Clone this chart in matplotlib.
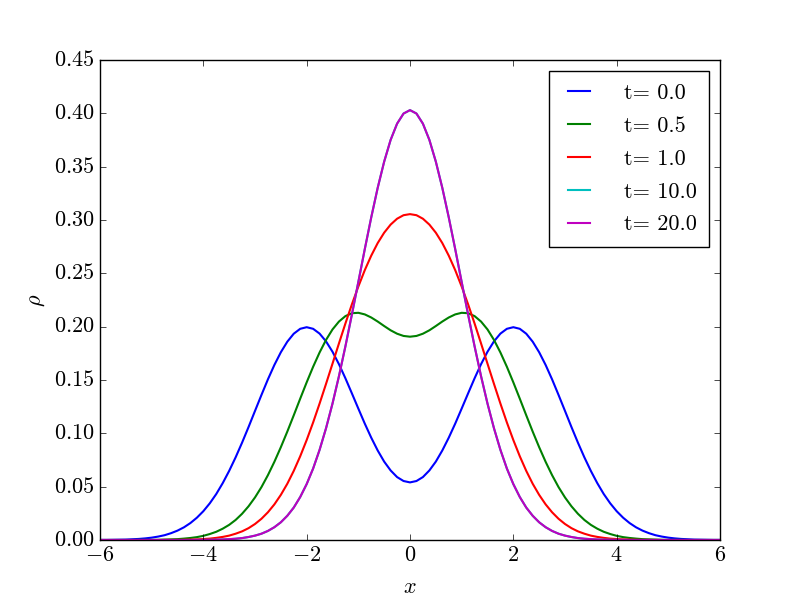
import numpy as np
import matplotlib
matplotlib.use("Agg")
import matplotlib.pyplot as plt
from matplotlib.ticker import FormatStrFormatter

# sampling grid along x, -6 .. 6 in steps of 0.125
x = np.linspace(-6, 6, 97)

rho_t0 = [0.0001, 0.0001, 0.0002, 0.0003, 0.0004, 0.0007, 0.0010, 0.0015,
          0.0022, 0.0032, 0.0045, 0.0064, 0.0088, 0.0119, 0.0159, 0.0209,
          0.0270, 0.0344, 0.0431, 0.0533, 0.0648, 0.0775, 0.0913, 0.1059,
          0.1210, 0.1360, 0.1506, 0.1641, 0.1760, 0.1859, 0.1934, 0.1980,
          0.1995, 0.1980, 0.1935, 0.1862, 0.1765, 0.1648, 0.1516, 0.1375,
          0.1232, 0.1091, 0.0959, 0.0839, 0.0735, 0.0652, 0.0590, 0.0553,
          0.0540,
          0.0553, 0.0590, 0.0652, 0.0735, 0.0839, 0.0959, 0.1091, 0.1232,
          0.1375, 0.1516, 0.1648, 0.1765, 0.1862, 0.1935, 0.1980, 0.1995,
          0.1980, 0.1934, 0.1859, 0.1760, 0.1641, 0.1506, 0.1360, 0.1210,
          0.1059, 0.0913, 0.0775, 0.0648, 0.0533, 0.0431, 0.0344, 0.0270,
          0.0209, 0.0159, 0.0119, 0.0088, 0.0064, 0.0045, 0.0032, 0.0022,
          0.0015, 0.0010, 0.0007, 0.0004, 0.0003, 0.0002, 0.0001, 0.0001]

rho_t05 = [0.0000, 0.0000, 0.0000, 0.0000, 0.0000, 0.0000, 0.0001, 0.0001,
           0.0001, 0.0002, 0.0004, 0.0006, 0.0008, 0.0013, 0.0019, 0.0027,
           0.0039, 0.0056, 0.0077, 0.0106, 0.0142, 0.0188, 0.0246, 0.0316,
           0.0399, 0.0496, 0.0608, 0.0733, 0.0870, 0.1016, 0.1169, 0.1325,
           0.1478, 0.1624, 0.1758, 0.1876, 0.1974, 0.2048, 0.2099, 0.2126,
           0.2130, 0.2115, 0.2086, 0.2048, 0.2006, 0.1966, 0.1934, 0.1913,
           0.1906,
           0.1913, 0.1934, 0.1966, 0.2006, 0.2048, 0.2086, 0.2115, 0.2130,
           0.2126, 0.2099, 0.2048, 0.1974, 0.1876, 0.1758, 0.1624, 0.1478,
           0.1325, 0.1169, 0.1016, 0.0870, 0.0733, 0.0608, 0.0496, 0.0399,
           0.0316, 0.0246, 0.0188, 0.0142, 0.0106, 0.0077, 0.0056, 0.0039,
           0.0027, 0.0019, 0.0013, 0.0008, 0.0006, 0.0004, 0.0002, 0.0001,
           0.0001, 0.0001, 0.0000, 0.0000, 0.0000, 0.0000, 0.0000, 0.0000]

rho_t1 = [0.0000, 0.0000, 0.0000, 0.0000, 0.0000, 0.0000, 0.0000, 0.0000,
          0.0000, 0.0000, 0.0001, 0.0001, 0.0001, 0.0002, 0.0004, 0.0006,
          0.0009, 0.0013, 0.0020, 0.0029, 0.0041, 0.0059, 0.0081, 0.0111,
          0.0150, 0.0199, 0.0260, 0.0334, 0.0423, 0.0527, 0.0648, 0.0785,
          0.0937, 0.1102, 0.1279, 0.1464, 0.1653, 0.1843, 0.2030, 0.2209,
          0.2376, 0.2530, 0.2666, 0.2784, 0.2881, 0.2957, 0.3012, 0.3045,
          0.3055,
          0.3045, 0.3012, 0.2957, 0.2881, 0.2784, 0.2666, 0.2530, 0.2376,
          0.2209, 0.2030, 0.1843, 0.1653, 0.1464, 0.1279, 0.1102, 0.0937,
          0.0785, 0.0648, 0.0527, 0.0423, 0.0334, 0.0260, 0.0199, 0.0150,
          0.0111, 0.0081, 0.0059, 0.0041, 0.0029, 0.0020, 0.0013, 0.0009,
          0.0006, 0.0004, 0.0002, 0.0001, 0.0001, 0.0001, 0.0000, 0.0000,
          0.0000, 0.0000, 0.0000, 0.0000, 0.0000, 0.0000, 0.0000, 0.0000]

rho_t10 = [0.0000, 0.0000, 0.0000, 0.0000, 0.0000, 0.0000, 0.0000, 0.0000,
           0.0000, 0.0000, 0.0000, 0.0000, 0.0000, 0.0000, 0.0000, 0.0001,
           0.0001, 0.0002, 0.0003, 0.0005, 0.0008, 0.0012, 0.0018, 0.0028,
           0.0041, 0.0059, 0.0085, 0.0120, 0.0166, 0.0227, 0.0304, 0.0403,
           0.0524, 0.0670, 0.0845, 0.1048, 0.1279, 0.1536, 0.1816, 0.2113,
           0.2419, 0.2727, 0.3025, 0.3302, 0.3547, 0.3751, 0.3903, 0.3998,
           0.4030,
           0.3998, 0.3903, 0.3751, 0.3547, 0.3302, 0.3025, 0.2727, 0.2419,
           0.2113, 0.1816, 0.1536, 0.1279, 0.1048, 0.0845, 0.0670, 0.0524,
           0.0403, 0.0304, 0.0227, 0.0166, 0.0120, 0.0085, 0.0059, 0.0041,
           0.0028, 0.0018, 0.0012, 0.0008, 0.0005, 0.0003, 0.0002, 0.0001,
           0.0001, 0.0000, 0.0000, 0.0000, 0.0000, 0.0000, 0.0000, 0.0000,
           0.0000, 0.0000, 0.0000, 0.0000, 0.0000, 0.0000, 0.0000, 0.0000]

# t=20 sits on the same equilibrium curve as t=10
rho_t20 = list(rho_t10)

times = ["0.0", "0.5", "1.0", "10.0", "20.0"]
curves = [rho_t0, rho_t05, rho_t1, rho_t10, rho_t20]
colors = ["b", "g", "r", "c", "m"]

plt.style.use("classic")
plt.rcParams["font.family"] = "serif"
plt.rcParams["font.serif"] = ["cmr10"]
plt.rcParams["mathtext.fontset"] = "cm"
plt.rcParams["font.size"] = 16

fig = plt.figure(figsize=(8, 6), dpi=100, facecolor="white")
ax = fig.add_subplot(111)

for t, rho, c in zip(times, curves, colors):
    ax.plot(x, rho, color=c, linewidth=1.5, label="t= " + t)

ax.set_xlim(-6, 6)
ax.set_ylim(0, 0.45)
ax.xaxis.set_major_formatter(FormatStrFormatter(r"$%d$"))
ax.yaxis.set_major_formatter(FormatStrFormatter(r"$%.2f$"))
ax.set_xlabel(r"$x$", labelpad=9)
ax.set_ylabel(r"$\rho$")

leg = ax.legend(loc="upper right", handlelength=1.6, handletextpad=1.2,
                labelspacing=0.6, borderpad=0.55, fontsize=16)
leg.get_frame().set_edgecolor("black")

fig.savefig("out.png", dpi=100, facecolor="white")
